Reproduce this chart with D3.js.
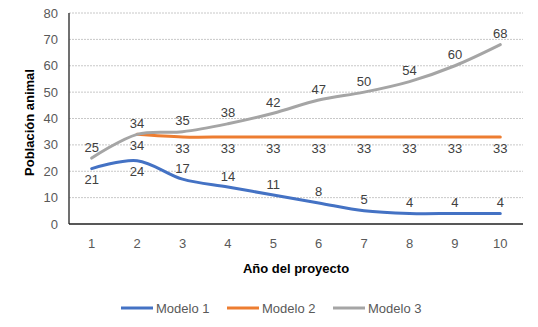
<!DOCTYPE html>
<html>
<head>
<meta charset="utf-8">
<script src="https://cdn.jsdelivr.net/npm/d3@7"></script>
<style>
  body { margin: 0; background: #fff; }
  text { font-family: "Liberation Sans", Arial, sans-serif; }
</style>
</head>
<body>
<div id="chart"></div>
<script>
// chart data
const years = [1, 2, 3, 4, 5, 6, 7, 8, 9, 10];
const modelo1 = [21, 24, 17, 14, 11, 8, 5, 4, 4, 4];
const modelo2 = [null, 34, 33, 33, 33, 33, 33, 33, 33, 33];
const modelo3 = [25, 34, 35, 38, 42, 47, 50, 54, 60, 68];
const yTicks = [0, 10, 20, 30, 40, 50, 60, 70, 80];
const seriesNames = ['Modelo 1', 'Modelo 2', 'Modelo 3'];

const width = 538, height = 327;
const margin = {top: 13, right: 15, bottom: 103, left: 69};
const colors = ['#4472C4', '#ED7D31', '#A5A5A5'];
// label placement: above (-1) or below (+1) each point
const labelSide = [
  [1, 1, -1, -1, -1, -1, -1, -1, -1, -1],
  [1, 1, 1, 1, 1, 1, 1, 1, 1, 1],
  [-1, -1, -1, -1, -1, -1, -1, -1, -1, -1]
];

const svg = d3.select('#chart').append('svg')
  .attr('width', width).attr('height', height);

const x = d3.scaleBand().domain(years).range([margin.left, width - margin.right]);
const y = d3.scaleLinear().domain([0, 80]).range([height - margin.bottom, margin.top]);
const cx = d => x(d) + x.bandwidth() / 2;

// gridlines
svg.append('g')
  .selectAll('line')
  .data(yTicks.slice(1))
  .join('line')
  .attr('x1', margin.left).attr('x2', width - margin.right)
  .attr('y1', d => y(d)).attr('y2', d => y(d))
  .attr('stroke', '#c8c8c8')
  .attr('stroke-dasharray', '2,1');

// y axis labels
svg.append('g')
  .selectAll('text')
  .data(yTicks)
  .join('text')
  .attr('x', margin.left - 11)
  .attr('y', d => y(d))
  .attr('dy', '0.35em')
  .attr('text-anchor', 'end')
  .attr('font-size', 13)
  .attr('fill', '#595959')
  .text(d => d);

// x axis labels
svg.append('g')
  .selectAll('text')
  .data(years)
  .join('text')
  .attr('x', d => cx(d))
  .attr('y', y(0) + 19)
  .attr('dy', '0.35em')
  .attr('text-anchor', 'middle')
  .attr('font-size', 13)
  .attr('fill', '#595959')
  .text(d => d);

// axis lines
svg.append('line')
  .attr('x1', margin.left).attr('x2', margin.left)
  .attr('y1', y(80)).attr('y2', y(0))
  .attr('stroke', '#404040').attr('stroke-width', 1.5);
svg.append('line')
  .attr('x1', margin.left).attr('x2', width - margin.right)
  .attr('y1', y(0)).attr('y2', y(0))
  .attr('stroke', '#202020').attr('stroke-width', 1.5);

// axis titles
svg.append('text')
  .attr('x', (margin.left + width - margin.right) / 2)
  .attr('y', 268)
  .attr('dy', '0.35em')
  .attr('text-anchor', 'middle')
  .attr('font-size', 13)
  .attr('font-weight', 'bold')
  .attr('fill', '#000')
  .text('Año del proyecto');
svg.append('text')
  .attr('transform', `translate(29,${(y(0) + y(80)) / 2 + 4}) rotate(-90)`)
  .attr('dy', '0.35em')
  .attr('text-anchor', 'middle')
  .attr('font-size', 13)
  .attr('font-weight', 'bold')
  .attr('fill', '#000')
  .text('Población animal');

// lines
const line = d3.line()
  .defined(d => d[1] != null)
  .x(d => cx(d[0]))
  .y(d => y(d[1]))
  .curve(d3.curveCatmullRom.alpha(0.5));

const allSeries = [modelo1, modelo2, modelo3];
allSeries.forEach((vals, si) => {
  const pts = years.map((yr, i) => [yr, vals[i]]);
  svg.append('path')
    .datum(pts)
    .attr('d', line)
    .attr('fill', 'none')
    .attr('stroke', colors[si])
    .attr('stroke-width', 3)
    .attr('stroke-linecap', 'round');
});

// data labels
allSeries.forEach((vals, si) => {
  svg.append('g')
    .selectAll('text')
    .data(years.map((yr, i) => ({yr, v: vals[i], side: labelSide[si][i]})).filter(d => d.v != null))
    .join('text')
    .attr('x', d => cx(d.yr))
    .attr('y', d => y(d.v) + d.side * 11)
    .attr('dy', '0.35em')
    .attr('text-anchor', 'middle')
    .attr('font-size', 13)
    .attr('fill', '#404040')
    .text(d => d.v);
});

// legend
const legendX = [121, 227, 333];
const legend = svg.append('g')
  .selectAll('g')
  .data(seriesNames)
  .join('g')
  .attr('transform', (d, i) => `translate(${legendX[i]},308)`);
legend.append('line')
  .attr('x1', 0).attr('x2', 32)
  .attr('stroke', (d, i) => colors[i])
  .attr('stroke-width', 3);
legend.append('text')
  .attr('x', 35)
  .attr('dy', '0.35em')
  .attr('font-size', 13)
  .attr('fill', '#595959')
  .text(d => d);
</script>
</body>
</html>
